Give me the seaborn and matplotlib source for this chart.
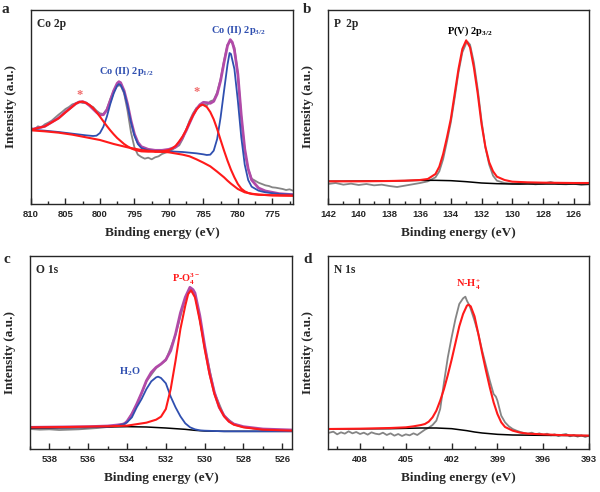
import matplotlib
matplotlib.use("Agg")
import matplotlib.pyplot as plt
from matplotlib.ticker import MultipleLocator
import seaborn as sns

# ---------------- panel a: Co 2p ----------------
co_raw_e = [810, 809.5, 809, 808.5, 808, 807.5, 807, 806.5, 806, 805.5, 805, 804.5, 804, 803.5, 803,
            802.5, 802, 801.5, 801, 800.5, 800, 799.5, 799, 798.5, 798, 797.5, 797, 796.5, 796, 795.5,
            795, 794.5, 794, 793.5, 793, 792.5, 792, 791.5, 791, 790.5, 790, 789.5, 789, 788.5, 788,
            787.5, 787, 786.5, 786, 785.5, 785, 784.5, 784, 783.5, 783, 782.5, 782, 781.5, 781, 780.5,
            780, 779.5, 779, 778.5, 778, 777.5, 777, 776.5, 776, 775.5, 775, 774.5, 774, 773.5, 773,
            772.5, 772]
co_raw_i = [228, 224, 233, 230, 239, 244, 250, 259, 268, 276, 285, 291, 299, 302, 307,
            303, 304, 296, 291, 280, 272, 270, 284, 315, 340, 354, 356, 332, 280, 215,
            170, 148, 141, 136, 139, 134, 140, 143, 150, 154, 158, 163, 170, 176, 195,
            222, 250, 272, 288, 293, 299, 296, 308, 312, 335, 375, 430, 478, 490, 470,
            390, 260, 160, 105, 76, 70, 64, 60, 56, 54, 50, 49, 47, 45, 42,
            44, 40]

co_env_e = [810, 808, 806, 805, 804, 803.5, 803, 802.5, 802, 801.5, 801, 800.5, 800, 799.5, 799, 798.5,
            798, 797.5, 797.25, 797, 796.5, 796, 795.5, 795, 794.5, 794, 793, 792, 791, 790, 789,
            788.5, 788, 787.5, 787, 786.5, 786, 785.5, 785, 784.5, 784, 783.5, 783, 782.5, 782,
            781.5, 781.1, 780.8, 780.5, 780, 779.5, 779, 778.5, 778, 777, 776, 774, 772]
co_env_i = [223, 233, 258, 276, 293, 301, 306, 307, 303, 295, 285, 275, 267, 268, 282, 310,
            340, 362, 367, 364, 340, 300, 250, 210, 185, 172, 164, 161, 161, 164, 171,
            184, 200, 220, 243, 266, 285, 298, 305, 304, 302, 308, 330, 370, 425,
            475, 493, 485, 462, 390, 265, 165, 105, 72, 48, 39, 31, 28]

co_comp_e = [810, 808, 806, 804, 802, 801, 800.5, 800, 799.5, 799, 798.5, 798, 797.5, 797.25, 797,
             796.5, 796, 795.5, 795, 794.5, 794, 793, 792, 790, 788, 786, 785, 784.5, 784, 783.5,
             783, 782.5, 782, 781.5, 781.2, 781, 780.5, 780, 779.5, 779, 778.5, 778, 777, 776,
             774, 772]
co_comp_i = [223, 220, 216, 211, 206, 204, 205, 213, 232, 262, 300, 332, 355, 360, 357,
             336, 295, 245, 205, 180, 168, 161, 159, 158, 156, 152, 149, 147, 148, 160,
             195, 260, 340, 418, 453, 450, 405, 310, 200, 118, 72, 52, 40, 35,
             30, 28]

co_sat1_e = [810, 808, 806, 805, 804, 803.5, 803, 802.5, 802, 801.5, 801, 800.5, 800, 799.5, 799,
             798.5, 798, 797.5, 797, 796.5, 796, 795.5, 795, 794.5, 794, 793, 792, 791, 790]
co_sat1_i = [223, 233, 257, 275, 292, 301, 306, 307, 303, 297, 288, 276, 262, 248, 234,
             221, 209, 198, 189, 180, 173, 167, 163, 160, 158, 157, 157, 157, 156]

co_sat2_e = [792, 791, 790, 789.5, 789, 788.5, 788, 787.5, 787, 786.5, 786, 785.5, 785.2, 785,
             784.5, 784, 783.5, 783, 782.5, 782, 781.5, 781, 780.5, 780, 779.5, 779, 778.5,
             778, 777, 775, 772]
co_sat2_i = [157, 158, 162, 167, 175, 188, 203, 222, 245, 266, 283, 295, 298, 297,
             291, 276, 254, 225, 192, 160, 130, 103, 80, 60, 46, 38, 33,
             30, 28, 26, 25]

co_bg_e = [810, 808, 806, 804, 802, 800, 798, 796, 794, 792, 790, 788, 787, 786, 785, 784, 783,
           782, 781.5, 781, 780.5, 780, 779.5, 779, 778, 777, 775, 772]
co_bg_i = [221, 218, 214, 208, 200, 192, 180, 170, 162, 158, 155, 148, 143, 134, 124, 113, 97,
           80, 70, 61, 53, 45, 40, 35, 31, 28, 26, 25]

# ---------------- panel b: P 2p ----------------
p_raw_e = [142, 141.5, 141, 140.5, 140, 139.5, 139, 138.5, 138, 137.5, 137, 136.5, 136, 135.5,
           135, 134.75, 134.5, 134.25, 134, 133.75, 133.5, 133.25, 133, 132.9, 132.75, 132.5,
           132.25, 132, 131.75, 131.5, 131.25, 131, 130.5, 130, 129.5, 129, 128.5, 128, 127.5,
           127, 126.5, 126, 125.5, 125]
p_raw_i = [60, 63, 58, 61, 57, 60, 56, 58, 54, 51, 55, 59, 63, 68,
           80, 98, 135, 188, 245, 318, 395, 455, 482, 486, 478, 425,
           345, 250, 170, 118, 85, 70, 63, 61, 60, 63, 59, 61, 66,
           60, 59, 61, 57, 59]

p_fit_e = [142, 140, 138, 137, 136, 135.5, 135, 134.75, 134.5, 134.25, 134, 133.75, 133.5,
           133.25, 133, 132.75, 132.5, 132.25, 132, 131.75, 131.5, 131.25, 131, 130.5, 130,
           129, 128, 126, 125]
p_fit_i = [68, 68, 69, 70, 72, 75, 90, 112, 150, 200, 255, 330, 405,
           465, 491, 470, 410, 332, 240, 172, 125, 98, 82, 72, 67,
           65, 64, 63, 63]

p_bg_e = [142, 139, 137, 136, 135, 134, 133, 132, 131, 130, 128, 125]
p_bg_i = [68, 69, 70, 71, 71, 70, 67, 63, 61, 60, 60, 60]

# ---------------- panel c: O 1s ----------------
o_raw_e = [539, 538.5, 538, 537.5, 537, 536.5, 536, 535.5, 535, 534.5, 534, 533.5, 533, 532.5,
           532, 531.5, 531, 530.75, 530.5, 530, 529.5, 529, 528.5, 528, 527, 526, 525.5]
o_raw_i = [60, 58, 59, 57, 58, 59, 61, 63, 66, 70, 80, 133, 203, 243,
           266, 343, 452, 482, 466, 308, 170, 100, 75, 66, 58, 55, 54]

o_env_e = [539, 536, 535, 534.5, 534.15, 534, 533.75, 533.5, 533.25, 533, 532.75, 532.5, 532.25,
           532, 531.75, 531.5, 531.25, 531, 530.76, 530.6, 530.5, 530.25, 530, 529.75, 529.5,
           529.25, 529, 528.75, 528.5, 528, 527, 526, 525.5]
o_env_i = [65, 67, 69, 72, 75, 83, 105, 135, 168, 205, 230, 245, 255,
           268, 295, 345, 408, 455, 485, 478, 468, 400, 310, 230, 170,
           125, 100, 84, 75, 67, 60, 58, 57]

o_po4_e = [539, 537, 535, 534, 533, 532.5, 532.25, 532, 531.75, 531.5, 531.25, 531, 530.85, 530.7,
           530.5, 530.25, 530, 529.75, 529.5, 529.25, 529, 528.75, 528.5, 528, 527, 526, 525.5]
o_po4_i = [65, 66, 68, 70, 79, 88, 97, 120, 180, 265, 360, 430, 465, 476,
           455, 385, 300, 225, 165, 125, 98, 82, 73, 65, 58, 56, 55]

o_h2o_e = [539, 537, 535.5, 535, 534.5, 534.15, 534, 533.75, 533.5, 533.25, 533, 532.75, 532.5,
           532.4, 532.25, 532, 531.75, 531.5, 531.25, 531, 530.75, 530.5, 530.25, 530, 529, 527,
           525.5]
o_h2o_i = [65, 65, 66, 67, 70, 75, 80, 95, 125, 150, 180, 203, 215,
           217, 213, 197, 157, 125, 98, 77, 65, 59, 56, 55, 53, 53,
           53]

o_bg_e = [539, 537, 535, 534, 533, 532, 531, 530.5, 530, 529, 527, 525.5]
o_bg_i = [63, 64, 66, 67, 66, 63, 59, 56, 54, 53, 53, 53]

# ---------------- panel d: N 1s ----------------
n_raw_e = [410.1, 409.75, 409.5, 409.25, 409, 408.75, 408.5, 408.25, 408, 407.75, 407.5, 407.25,
           407, 406.75, 406.5, 406.25, 406, 405.75, 405.5, 405.25, 405, 404.75, 404.5, 404.25,
           404, 403.75, 403.5, 403.25, 403, 402.75, 402.5, 402.25, 402, 401.75, 401.5, 401.25,
           401.1, 401, 400.85, 400.75, 400.5, 400.25, 400, 399.75, 399.5, 399.25, 399.1, 399,
           398.75, 398.5, 398.25, 398, 397.75, 397.5, 397.25, 397, 396.75, 396.5, 396.25, 396,
           395.75, 395.5, 395.25, 395, 394.75, 394.5, 394.25, 394, 393.75, 393.5, 393.25, 393]
n_raw_i = [48, 52, 44, 50, 46, 53, 47, 51, 45, 49, 43, 50,
           46, 44, 49, 42, 47, 40, 45, 39, 44, 41, 47, 42,
           50, 58, 64, 72, 85, 120, 200, 275, 335, 390, 435, 452,
           457, 445, 432, 420, 385, 345, 295, 250, 205, 165, 157, 145,
           100, 80, 68, 60, 55, 51, 48, 46, 49, 44, 47, 42,
           46, 41, 44, 39, 43, 45, 38, 42, 37, 41, 36, 40]

n_fit_e = [410.1, 408, 406, 405, 404.5, 404, 403.75, 403.5, 403.25, 403, 402.75, 402.5, 402.25,
           402, 401.75, 401.5, 401.25, 401, 400.9, 400.75, 400.5, 400.25, 400, 399.75, 399.5,
           399.25, 399, 398.75, 398.5, 398, 397.5, 397, 395, 393]
n_fit_i = [60, 61, 63, 65, 68, 72, 75, 82, 95, 115, 145, 180, 222,
           268, 318, 368, 405, 430, 433, 428, 398, 345, 288, 235, 185,
           140, 105, 80, 66, 55, 49, 46, 42, 40]

n_bg_e = [410.1, 406, 404, 403, 402, 401, 400.5, 400, 399, 398, 396, 393]
n_bg_i = [60, 61, 63, 63, 61, 55, 51, 48, 44, 42, 41, 40]

GRAY = "#858585"
RED = "#ff1a1a"
BLUE = "#2f4fb0"
MAG = "#b14aa8"
SERIF = "Liberation Serif"
SANS = "Liberation Sans"

sns.set_style("ticks")
plt.rcParams["font.family"] = [SERIF, "DejaVu Serif"]
plt.rcParams["font.weight"] = "bold"
plt.rcParams["mathtext.fontset"] = "custom"
plt.rcParams["mathtext.rm"] = "Liberation Serif:bold"
plt.rcParams["mathtext.it"] = "Liberation Serif:bold"
plt.rcParams["mathtext.bf"] = "Liberation Serif:bold"

fig = plt.figure(figsize=(6.0, 4.92), dpi=100)

W, H = 600.0, 492.0
boxes = {
    "a": (31, 10, 293, 204),
    "b": (328, 10, 589, 204),
    "c": (30, 256, 292, 449),
    "d": (328, 256, 589, 449),
}
axes = {}
for key, (x0, y0, x1, y1) in boxes.items():
    axes[key] = fig.add_axes([x0 / W, 1 - y1 / H, (x1 - x0) / W, (y1 - y0) / H])


def line(ax, x, y, color, lw):
    sns.lineplot(x=x, y=y, ax=ax, color=color, linewidth=lw, estimator=None,
                 errorbar=None, legend=False)


def style(ax, xlim, ylim, major, minor, title):
    ax.set_xlim(*xlim)
    ax.set_ylim(*ylim)
    ax.xaxis.set_major_locator(MultipleLocator(major))
    ax.xaxis.set_minor_locator(MultipleLocator(minor))
    ax.set_yticks([])
    ax.tick_params(axis="x", which="both", direction="in", top=False, bottom=True,
                   width=1.0, pad=4)
    ax.tick_params(axis="x", which="major", length=4)
    ax.tick_params(axis="x", which="minor", length=2.5)
    for lab in ax.get_xticklabels():
        lab.set_fontfamily(SANS)
        lab.set_fontweight("bold")
        lab.set_fontsize(6.8)
    for s in ax.spines.values():
        s.set_visible(True)
        s.set_linewidth(1.0)
    ax.set_xlabel("Binding energy (eV)", fontsize=9.5, fontweight="bold", labelpad=6)
    ax.set_ylabel("Intensity (a.u.)", fontsize=9.5, fontweight="bold", labelpad=10)
    ax.text(0.022, 0.93, title, transform=ax.transAxes, fontsize=8.3, fontweight="bold",
            ha="left", va="center")


# panel a
ax = axes["a"]
line(ax, co_raw_e, co_raw_i, GRAY, 1.3)
line(ax, co_env_e, co_env_i, MAG, 2.0)
line(ax, co_comp_e, co_comp_i, BLUE, 1.3)
line(ax, co_bg_e, co_bg_i, RED, 1.5)
line(ax, co_sat1_e, co_sat1_i, RED, 1.5)
line(ax, co_sat2_e, co_sat2_i, RED, 1.5)
style(ax, (810, 772), (0, 582), 5, 2.5, "Co 2p")
ax.text(796.1, 399, r"Co (II) 2p$_{1/2}$", color=BLUE, fontsize=7.5, ha="center", va="center")
ax.text(779.9, 522, r"Co (II) 2p$_{3/2}$", color=BLUE, fontsize=7.5, ha="center", va="center")
ax.text(802.9, 328, "*", color="#f06a6a", fontsize=9, ha="center", va="center")
ax.text(786.0, 336, "*", color="#f06a6a", fontsize=9, ha="center", va="center")

# panel b
ax = axes["b"]
line(ax, p_raw_e, p_raw_i, GRAY, 1.3)
line(ax, p_bg_e, p_bg_i, "black", 1.1)
line(ax, p_fit_e, p_fit_i, RED, 1.5)
style(ax, (142, 125), (0, 582), 2, 1, "P  2p")
ax.text(132.74, 517, r"P(V) 2p$_{3/2}$", color="black", fontsize=7.5, ha="center", va="center")

# panel c
ax = axes["c"]
line(ax, o_raw_e, o_raw_i, GRAY, 1.3)
line(ax, o_env_e, o_env_i, MAG, 2.0)
line(ax, o_bg_e, o_bg_i, "black", 1.1)
line(ax, o_h2o_e, o_h2o_i, BLUE, 1.3)
line(ax, o_po4_e, o_po4_i, RED, 1.5)
style(ax, (539, 525.5), (0, 579), 2, 1, "O 1s")
ax.text(530.95, 509, r"P-O$_{4}^{3-}$", color=RED, fontsize=7.5, ha="center", va="center")
ax.text(533.87, 231, r"H$_{2}$O", color=BLUE, fontsize=7.5, ha="center", va="center")

# panel d
ax = axes["d"]
line(ax, n_raw_e, n_raw_i, GRAY, 1.3)
line(ax, n_bg_e, n_bg_i, "black", 1.1)
line(ax, n_fit_e, n_fit_i, RED, 1.5)
style(ax, (410.1, 393), (0, 579), 3, 1.5, "N 1s")
ax.text(400.92, 494, r"N-H$_{4}^{+}$", color=RED, fontsize=7.5, ha="center", va="center")

# panel letters
for letter, (px, py) in {"a": (2, 13), "b": (303, 13), "c": (3, 263), "d": (303, 263)}.items():
    fig.text(px / W, 1 - py / H, letter, fontsize=11, fontweight="bold", ha="left",
             va="baseline")

fig.savefig("out.png", dpi=100)
